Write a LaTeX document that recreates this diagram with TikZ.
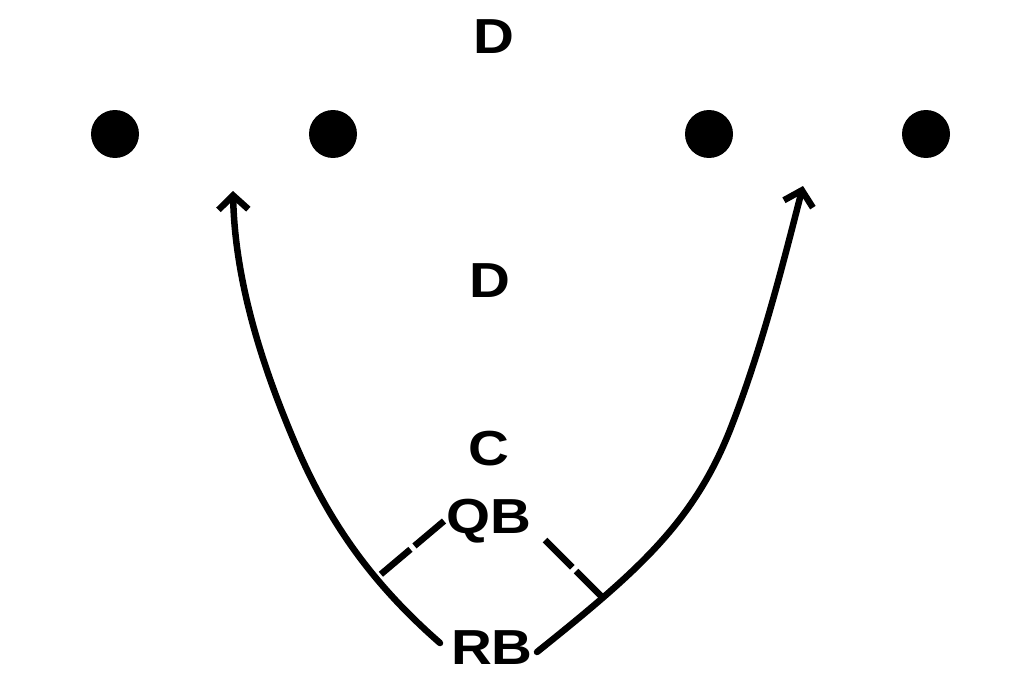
\documentclass[tikz,border=0pt]{standalone}
\usepackage{fontspec}
\setmainfont{Liberation Sans}
\usetikzlibrary{arrows.meta}
\begin{document}
\begin{tikzpicture}[x=0.02cm,y=-0.02cm,
  lbl/.style={inner sep=0pt,font=\bfseries\fontsize{28}{32}\selectfont},
  player/.style={circle,fill=black,inner sep=0pt,minimum size=0.96cm},
  route/.style={line width=3.7pt,line cap=round,line join=round,
    -{Straight Barb[length=8pt,width=17pt,line width=3.7pt]}},
  block/.style={line width=3.7pt,dash pattern=on 22pt off 3pt}]
\useasboundingbox (0,0) rectangle (1024,683);
% labels
\node[lbl] (d1) at (494,37) {\scalebox{1.15}[1]{D}};
\node[lbl] (d2) at (490,281) {\scalebox{1.15}[1]{D}};
\node[lbl] (c) at (489,449) {\scalebox{1.15}[1]{C}};
\node[lbl] (qb) at (489,521) {\scalebox{1.15}[1]{QB}};
\node[lbl] (rb) at (492,648) {\scalebox{1.15}[1]{RB}};
% players
\node[player] (p1) at (115,134) {};
\node[player] (p2) at (333,134) {};
\node[player] (p3) at (709,134) {};
\node[player] (p4) at (926,134) {};
% left route
\coordinate (l0) at (440,643);
\coordinate (lm) at (298,450);
\coordinate (l5) at (233,191);
\draw[route] (l0) .. controls (376,587) and (332,528) .. (lm)
  .. controls (262,367) and (235,281) .. (l5);
% right route
\coordinate (r0) at (537,652);
\coordinate (rm) at (730,430);
\coordinate (r5) at (803,186);
\draw[route] (r0) .. controls (638,571) and (693,523) .. (rm)
  .. controls (761,351) and (782,268) .. (r5);
% blocking lines
\coordinate (bl) at (380,575);
\coordinate (br) at (602,597);
\draw[block] (444,521) -- (bl);
\draw[block] (545,540) -- (br);
\end{tikzpicture}
\end{document}
